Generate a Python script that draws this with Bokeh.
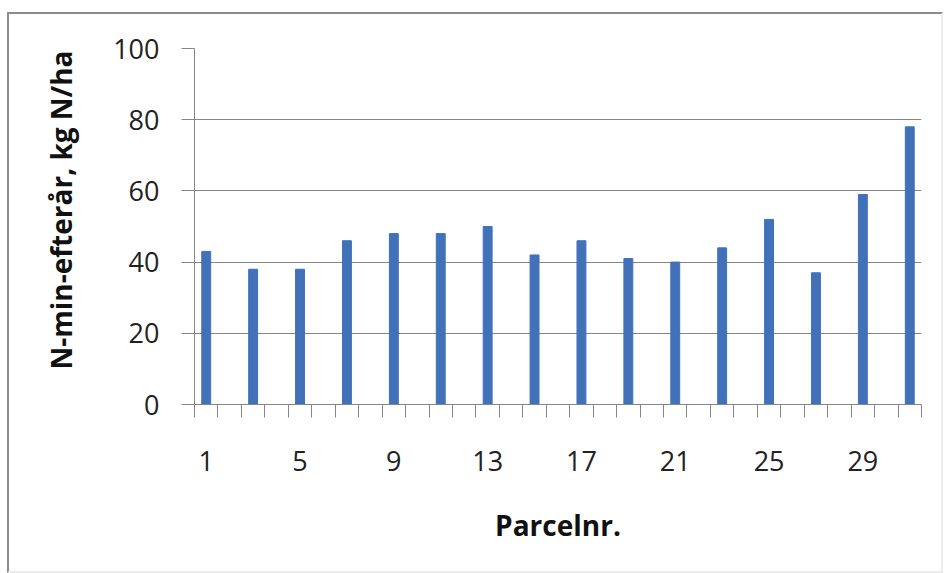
from bokeh.plotting import figure
from bokeh.models import FixedTicker, Range1d, ColumnDataSource, Title, InlineStyleSheet
from bokeh.embed import file_html
from bokeh.resources import INLINE

# Autumn mineral nitrogen per plot (only odd-numbered plots measured)
parcels = [1, 3, 5, 7, 9, 11, 13, 15, 17, 19, 21, 23, 25, 27, 29, 31]
n_min = [43, 38, 38, 46, 48, 48, 50, 42, 46, 41, 40, 44, 52, 37, 59, 78]
n_categories = 31
x_label_ticks = [1, 5, 9, 13, 17, 21, 25, 29]
y_ticks = [0, 20, 40, 60, 80, 100]

FONT = "Open Sans"
GRID = "#868686"
BAR = "#4171B9"

src = ColumnDataSource(dict(x=parcels, y=n_min))

# grey frame around the whole chart area (darker on the left and top)
frame_css = InlineStyleSheet(css="""
:host { position: relative; }
:host::after {
  content: "";
  position: absolute;
  left: 7px; top: 12px; width: 932px; height: 557px;
  border-left: 2px solid #8c8c8c;
  border-top: 2px solid #8c8c8c;
  border-right: 2px solid #ececec;
  border-bottom: 2px solid #ececec;
  pointer-events: none;
}
""")

p = figure(
    width=946, height=573,
    x_range=Range1d(0.5, n_categories + 0.5),
    y_range=Range1d(0, 100),
    output_backend="svg", toolbar_location=None,
    min_border_left=194, min_border_right=25,
    min_border_top=48, min_border_bottom=169,
    stylesheets=[frame_css],
)
p.vbar(x="x", top="y", width=0.38, source=src, color=BAR)

p.background_fill_color = "white"
p.border_fill_color = "white"
p.outline_line_color = None

# y axis
p.yaxis.ticker = FixedTicker(ticks=y_ticks)
p.yaxis.axis_line_color = GRID
p.yaxis.major_tick_line_color = GRID
p.yaxis.major_tick_out = 13
p.yaxis.major_tick_in = 0
p.yaxis.minor_tick_line_color = None
p.yaxis.major_label_text_font = FONT
p.yaxis.major_label_text_font_size = "27px"
p.yaxis.major_label_text_color = "#222222"
p.yaxis.major_label_standoff = 22

# y axis title, aligned with the top of the plot area
p.add_layout(Title(
    text="N-min-efterår, kg N/ha", align="right", offset=2,
    text_font=FONT, text_font_style="bold", text_font_size="28px",
    text_color="#111111", standoff=62,
), "left")

# x axis: labels on every fourth plot, ticks on category boundaries
p.xaxis.ticker = FixedTicker(
    ticks=x_label_ticks,
    minor_ticks=[k + 0.5 for k in range(n_categories + 1)],
)
p.xaxis.axis_line_color = GRID
p.xaxis.major_tick_line_color = None
p.xaxis.major_tick_out = 0
p.xaxis.major_tick_in = 0
p.xaxis.minor_tick_line_color = GRID
p.xaxis.minor_tick_out = 13
p.xaxis.minor_tick_in = 0
p.xaxis.major_label_text_font = FONT
p.xaxis.major_label_text_font_size = "27px"
p.xaxis.major_label_text_color = "#222222"
p.xaxis.major_label_standoff = 33
p.xaxis.axis_label = "Parcelnr."
p.xaxis.axis_label_text_font = FONT
p.xaxis.axis_label_text_font_style = "bold"
p.xaxis.axis_label_text_font_size = "28px"
p.xaxis.axis_label_text_color = "#111111"
p.xaxis.axis_label_standoff = 32

p.xgrid.grid_line_color = None
p.ygrid.ticker = FixedTicker(ticks=y_ticks)
p.ygrid.grid_line_color = GRID
p.ygrid.grid_line_width = 1

open("out.html", "w").write(file_html(p, INLINE))
